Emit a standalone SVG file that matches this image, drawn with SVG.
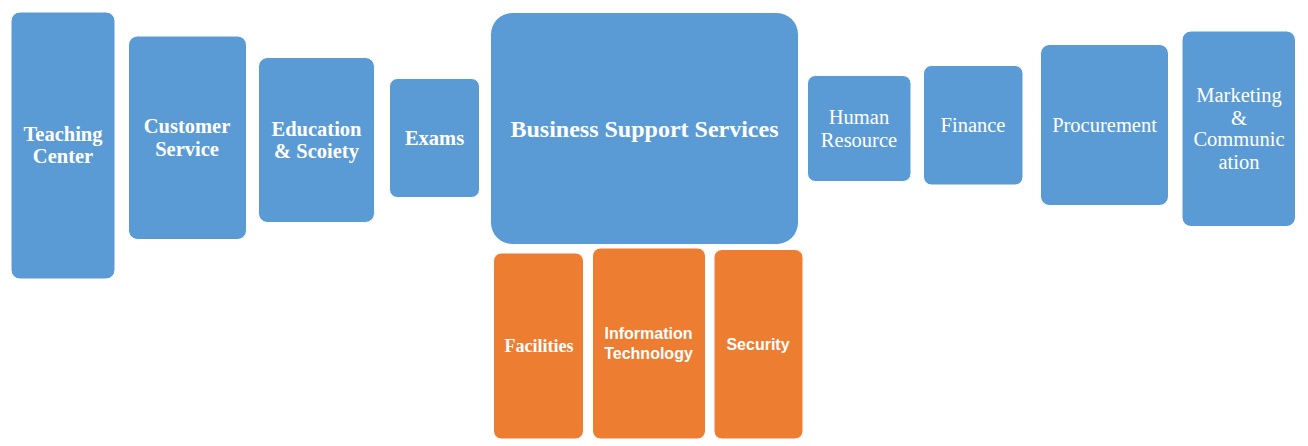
<svg xmlns="http://www.w3.org/2000/svg" width="1308" height="446" viewBox="0 0 1308 446">
  <style>
    .blue { fill: #5B9BD5; stroke: #ffffff; stroke-width: 1; }
    .orange { fill: #ED7D31; stroke: #ffffff; stroke-width: 1; }
    text { fill: #ffffff; text-anchor: middle; }
    .sb { font-family: "Liberation Serif", "Times New Roman", serif; font-weight: bold; font-size: 20.5px; }
    .sr { font-family: "Liberation Serif", "Times New Roman", serif; font-size: 20.5px; }
    .big { font-family: "Liberation Serif", "Times New Roman", serif; font-weight: bold; font-size: 24px; }
    .ss { font-family: "Liberation Sans", Arial, sans-serif; font-weight: bold; font-size: 16px; }
    .sf { font-family: "Liberation Serif", "Times New Roman", serif; font-weight: bold; font-size: 18px; }
  </style>
  <rect width="1308" height="446" fill="#ffffff"/>

  <g id="teaching-center">
    <rect class="blue" x="11" y="12" width="104" height="267" rx="9"/>
    <text class="sb" x="63" y="141">Teaching</text>
    <text class="sb" x="63" y="163">Center</text>
  </g>
  <g id="customer-service">
    <rect class="blue" x="128.5" y="36" width="118" height="203.5" rx="9"/>
    <text class="sb" x="187" y="133">Customer</text>
    <text class="sb" x="187" y="155.5">Service</text>
  </g>
  <g id="education-society">
    <rect class="blue" x="258.5" y="57.5" width="116" height="165" rx="9"/>
    <text class="sb" x="316.5" y="136">Education</text>
    <text class="sb" x="316.5" y="158">&amp; Scoiety</text>
  </g>
  <g id="exams">
    <rect class="blue" x="389.5" y="78.5" width="90" height="119" rx="8"/>
    <text class="sb" x="434.5" y="145">Exams</text>
  </g>
  <g id="business-support">
    <rect class="blue" x="490.5" y="12.5" width="308" height="232" rx="22"/>
    <text class="big" x="644.5" y="137">Business Support Services</text>
  </g>
  <g id="facilities">
    <rect class="orange" x="493.5" y="253" width="90" height="186" rx="8"/>
    <text class="sf" x="539" y="352">Facilities</text>
  </g>
  <g id="information-technology">
    <rect class="orange" x="592.5" y="248" width="113" height="191" rx="8"/>
    <text class="ss" x="648.5" y="339">Information</text>
    <text class="ss" x="648.5" y="359">Technology</text>
  </g>
  <g id="security">
    <rect class="orange" x="714" y="249.5" width="89" height="189.5" rx="8"/>
    <text class="ss" x="758" y="350">Security</text>
  </g>
  <g id="human-resource">
    <rect class="blue" x="807.5" y="75.5" width="103.5" height="106" rx="8"/>
    <text class="sr" x="859" y="123.5">Human</text>
    <text class="sr" x="859" y="146.5">Resource</text>
  </g>
  <g id="finance">
    <rect class="blue" x="923.5" y="65.5" width="99.5" height="119.5" rx="8"/>
    <text class="sr" x="973" y="131.5">Finance</text>
  </g>
  <g id="procurement">
    <rect class="blue" x="1040.5" y="44.5" width="128" height="161" rx="9"/>
    <text class="sr" x="1104.5" y="131.5">Procurement</text>
  </g>
  <g id="marketing-communication">
    <rect class="blue" x="1182" y="31" width="113.5" height="195.5" rx="9"/>
    <text class="sr" x="1239" y="102">Marketing</text>
    <text class="sr" x="1239" y="124.5">&amp;</text>
    <text class="sr" x="1239" y="146">Communic</text>
    <text class="sr" x="1239" y="168.5">ation</text>
  </g>

  <g id="connectors"/>
</svg>
